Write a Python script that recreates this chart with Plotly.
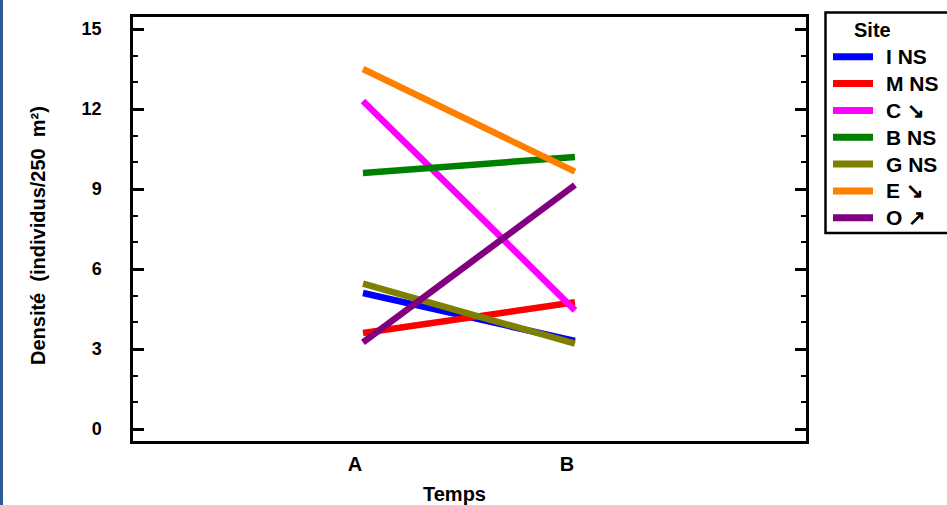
import plotly.graph_objects as go

temps = ["A", "B"]
sites = ["I NS", "M NS", "C \u2198", "B NS", "G NS", "E \u2198", "O \u2197"]
colors = ["#0000FF", "#FF0000", "#FF00FF", "#008000", "#808000", "#FF8000", "#800080"]
values = [
    [5.1, 3.3],
    [3.6, 4.75],
    [12.3, 4.45],
    [9.6, 10.2],
    [5.45, 3.2],
    [13.5, 9.65],
    [3.25, 9.15],
]
y_ticks = [0, 3, 6, 9, 12, 15]

W, H = 947, 505
ml, mr, mt, mb = 133, 141, 17, 64
pw = W - ml - mr
ph = H - mt - mb


def px(x):
    return (x - ml) / pw


def py(y):
    return (H - mb - y) / ph


fig = go.Figure()
for name, col, v in zip(sites, colors, values):
    fig.add_trace(go.Scatter(
        x=[0, 1], y=v, mode="lines", name=name, showlegend=False,
        line=dict(color=col, width=6.5),
    ))

fam = "Liberation Sans, Arial, sans-serif"
font20 = dict(family=fam, size=20, color="black", weight="bold")
font21 = dict(family=fam, size=21, color="black", weight="bold")
font18 = dict(family=fam, size=18, color="black", weight="bold")

shapes = [dict(
    type="rect", xref="paper", yref="paper",
    x0=px(0), x1=px(3), y0=-1, y1=2,
    fillcolor="#2B5C96", line=dict(width=0), layer="above",
)]
# legend box
shapes.append(dict(
    type="rect", xref="paper", yref="paper",
    x0=px(825.5), x1=px(960), y0=py(233), y1=py(12.5),
    fillcolor="white", line=dict(color="black", width=2.5), layer="above",
))
annotations = [dict(
    text="Site", xref="paper", yref="paper", x=px(852), y=py(30),
    xanchor="left", yanchor="middle", showarrow=False, font=font20,
)]
for i, (name, col) in enumerate(zip(sites, colors)):
    yy = 56.7 + 26.85 * i
    shapes.append(dict(
        type="line", xref="paper", yref="paper",
        x0=px(833), x1=px(873), y0=py(yy), y1=py(yy),
        line=dict(color=col, width=7), layer="above",
    ))
    annotations.append(dict(
        text=name, xref="paper", yref="paper", x=px(884), y=py(yy),
        xanchor="left", yanchor="middle", showarrow=False, font=font21,
    ))
# axis titles
annotations.append(dict(
    text="Densité  (individus/250  m²)", xref="paper", yref="paper",
    x=px(38), y=py(236), xanchor="center", yanchor="middle",
    textangle=-90, showarrow=False, font=font20,
))
annotations.append(dict(
    text="Temps", xref="paper", yref="paper",
    x=px(454), y=py(494), xanchor="center", yanchor="middle",
    showarrow=False, font=font20,
))

fig.update_layout(
    width=W, height=H,
    margin=dict(l=ml, r=mr, t=mt, b=mb),
    paper_bgcolor="white", plot_bgcolor="white",
    font=font20,
    showlegend=False,
    xaxis=dict(
        range=[-1.085, 2.09], tickmode="array", tickvals=[0, 1], ticktext=temps,
        showgrid=False, zeroline=False, ticks="", showline=True, linecolor="black",
        linewidth=2.5, mirror=True, tickfont=font20, ticklabelstandoff=3,
        ticklabelshift=-8, automargin=False,
    ),
    yaxis=dict(
        range=[-0.45, 15.45], tickmode="array", tickvals=y_ticks,
        showgrid=False, zeroline=False, ticks="inside", ticklen=11, tickwidth=2.5,
        tickcolor="black", showline=True, linecolor="black", linewidth=2.5,
        mirror="allticks", tickfont=font18, ticklabelstandoff=25,
        minor=dict(dtick=1, tick0=0, ticks="inside", ticklen=5, tickwidth=2, tickcolor="black"),
        automargin=False,
    ),
    shapes=shapes,
    annotations=annotations,
)

fig.write_html("out.html", config={"displayModeBar": False},
               post_script="document.body.style.margin='0';")
